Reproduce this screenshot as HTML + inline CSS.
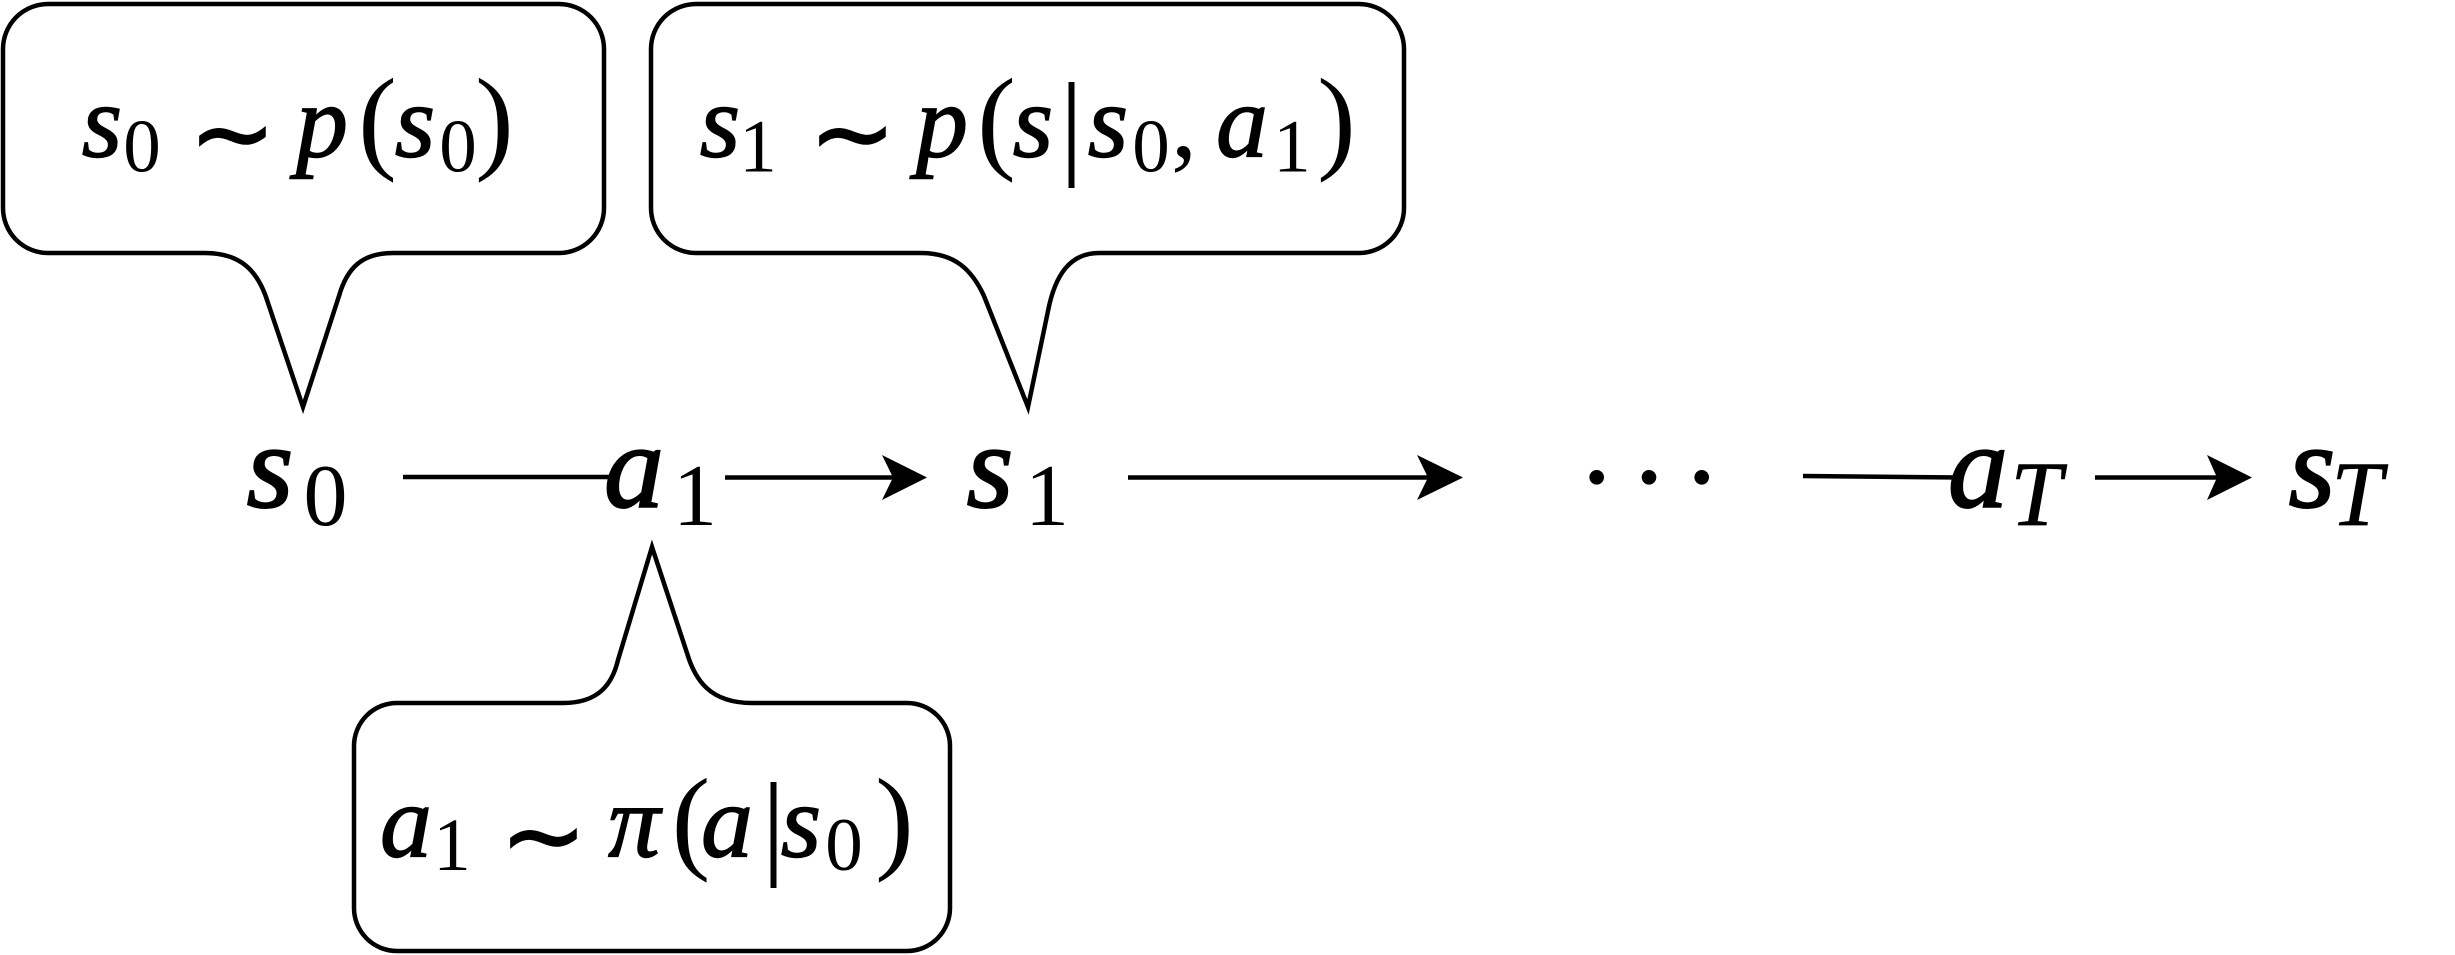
<!DOCTYPE html>
<html>
<head>
<meta charset="utf-8">
<style>
  html, body { margin:0; padding:0; background:#fff; }
  svg { display:block; }
  .i { font-family:"Liberation Serif", serif; font-style:italic; text-anchor:middle; fill:#000; stroke:#000; stroke-width:1.4; }
  .im { font-family:"Liberation Serif", serif; font-style:italic; text-anchor:middle; fill:#000; stroke:#000; stroke-width:2; }
  .u { font-family:"Liberation Serif", serif; text-anchor:middle; fill:#000; }
  .t { font-family:"DejaVu Sans", sans-serif; text-anchor:middle; fill:#000; stroke:#000; stroke-width:1.5; }
  .box { fill:none; stroke:#000; stroke-width:4.5; stroke-linejoin:miter; }
  .ln { stroke:#000; stroke-width:4.5; fill:none; }
</style>
</head>
<body>
<svg width="2455" height="955" viewBox="0 0 2455 955" xmlns="http://www.w3.org/2000/svg">
  <!-- Box 1 -->
  <path class="box" d="M 48,4 H 559 A 45 45 0 0 1 604,49 V 208 A 45 45 0 0 1 559,253 H 393 C 362,253 347,268 339,296 L 303,407 L 268,303 C 258,270 240,253 205,253 H 48 A 45 45 0 0 1 3,208 V 49 A 45 45 0 0 1 48,4 Z"/>
  <!-- Box 2 -->
  <path class="box" d="M 696,4 H 1359 A 45 45 0 0 1 1404,49 V 208 A 45 45 0 0 1 1359,253 H 1099 C 1070,253 1055,275 1048,311 L 1028,407 L 984,296 C 972,270 955,253 921,253 H 696 A 45 45 0 0 1 651,208 V 49 A 45 45 0 0 1 696,4 Z"/>
  <!-- Box 3 -->
  <path class="box" d="M 397,703 H 563 C 598,703 612,685 618,660 L 652,547 L 687,653 C 695,680 710,703 752,703 H 907 A 43 43 0 0 1 950,746 V 908 A 43 43 0 0 1 907,951 H 397 A 43 43 0 0 1 354,908 V 746 A 43 43 0 0 1 397,703 Z"/>

  <!-- Box 1 text: s0 ~ p(s0) -->
  <text class="i" x="102" y="156.5" font-size="104">s</text>
  <text class="u" x="142" y="171.5" font-size="75">0</text>
  <text class="t" x="232.5" y="169" font-size="104">∼</text>
  <text class="i" x="322" y="156.5" font-size="104">p</text>
  <text class="u" x="377.5" y="158" font-size="116">(</text>
  <text class="i" x="415" y="156.5" font-size="104">s</text>
  <text class="u" x="458" y="171.5" font-size="75">0</text>
  <text class="u" x="494.5" y="158" font-size="116">)</text>

  <!-- Box 2 text: s1 ~ p(s|s0, a1) -->
  <text class="i" x="720" y="156.5" font-size="104">s</text>
  <text class="u" x="758" y="171.5" font-size="75">1</text>
  <text class="t" x="852.5" y="169" font-size="104">∼</text>
  <text class="i" x="942" y="156.5" font-size="104">p</text>
  <text class="u" x="996.5" y="158" font-size="116">(</text>
  <text class="i" x="1033" y="156.5" font-size="104">s</text>
  <line class="ln" x1="1071.5" y1="82" x2="1071.5" y2="188" style="stroke-width:6"/>
  <text class="i" x="1108" y="156.5" font-size="104">s</text>
  <text class="u" x="1151" y="171.5" font-size="75">0</text>
  <text class="u" x="1184" y="156.5" font-size="104">,</text>
  <text class="i" x="1242" y="156.5" font-size="104">a</text>
  <text class="u" x="1292" y="171.5" font-size="75">1</text>
  <text class="u" x="1336.5" y="158" font-size="116">)</text>

  <!-- Box 3 text: a1 ~ pi(a|s0) -->
  <text class="i" x="406" y="856.7" font-size="104">a</text>
  <text class="u" x="452" y="870" font-size="75">1</text>
  <text class="t" x="543.5" y="871" font-size="104">∼</text>
  <text class="i" x="634" y="856.7" font-size="104">π</text>
  <text class="u" x="691" y="858" font-size="116">(</text>
  <text class="i" x="727" y="856.7" font-size="104">a</text>
  <line class="ln" x1="773.5" y1="782" x2="773.5" y2="888" style="stroke-width:6"/>
  <text class="i" x="801" y="856.7" font-size="104">s</text>
  <text class="u" x="844" y="870" font-size="75">0</text>
  <text class="u" x="894.5" y="858" font-size="116">)</text>

  <!-- Main row labels -->
  <text class="im" x="270" y="507" font-size="120">s</text>
  <text class="u" x="325.5" y="525" font-size="88">0</text>

  <text class="im" x="634" y="507" font-size="120">a</text>
  <text class="u" x="695" y="525" font-size="88">1</text>

  <text class="im" x="990" y="507" font-size="120">s</text>
  <text class="u" x="1047" y="525" font-size="88">1</text>

  <text class="im" x="1978" y="507" font-size="120">a</text>
  <text class="i" x="2036" y="525" font-size="92" style="stroke-width:0.8">T</text>

  <text class="im" x="2312" y="507" font-size="120">s</text>
  <text class="i" x="2357" y="525" font-size="92" style="stroke-width:0.8">T</text>

  <!-- dots -->
  <circle cx="1596.7" cy="477.3" r="7.3" fill="#000"/>
  <circle cx="1649" cy="477.3" r="7.3" fill="#000"/>
  <circle cx="1701.7" cy="477.3" r="7.3" fill="#000"/>

  <!-- connectors -->
  <line class="ln" x1="403" y1="477" x2="610" y2="477"/>
  <line class="ln" x1="725" y1="477.5" x2="895" y2="477.5"/>
  <path d="M 927,477.5 L 882,455 L 893,477.5 L 882,500 Z" fill="#000"/>

  <line class="ln" x1="1128" y1="477.5" x2="1430" y2="477.5"/>
  <path d="M 1463,477.5 L 1417,455 L 1428,477.5 L 1417,500 Z" fill="#000"/>

  <line class="ln" x1="1803" y1="476" x2="1960" y2="477.5"/>

  <line class="ln" x1="2095" y1="477.5" x2="2218" y2="477.5"/>
  <path d="M 2252,477.5 L 2207,455 L 2217,477.5 L 2207,500 Z" fill="#000"/>
</svg>
</body>
</html>
